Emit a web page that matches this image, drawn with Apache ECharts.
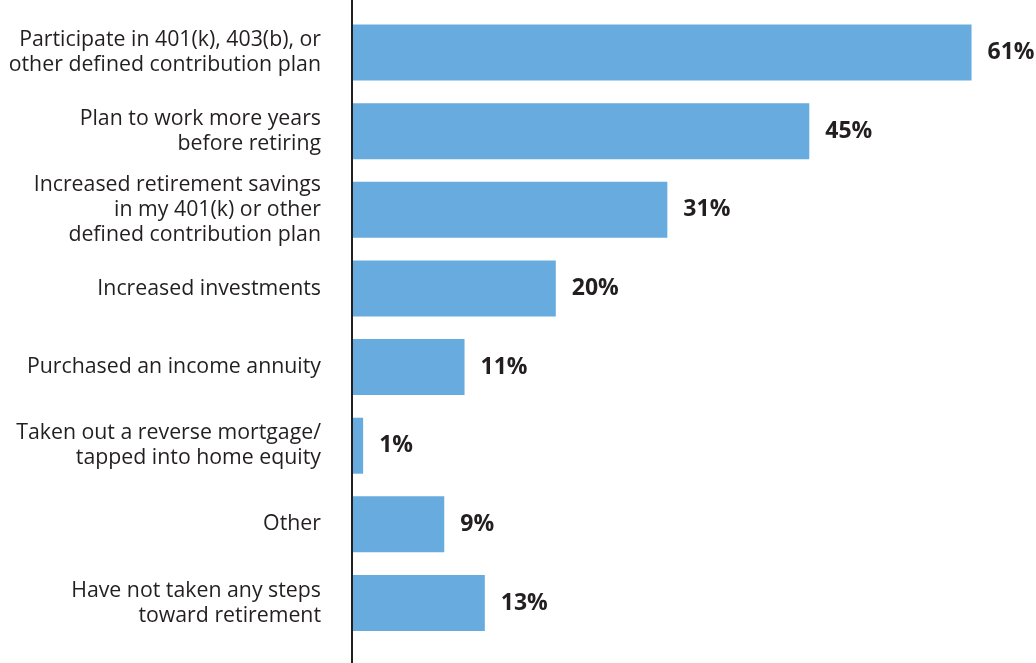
<!DOCTYPE html>
<html>
<head>
<meta charset="utf-8">
<script src="https://cdn.jsdelivr.net/npm/echarts@6/dist/echarts.min.js"></script>
<style>
  html, body { margin: 0; padding: 0; background: #ffffff; }
  #chart { width: 1036px; height: 663px; }
</style>
</head>
<body>
<div id="chart"></div>
<script>
// Steps taken toward retirement (share of respondents, %)
const categories = [
  'Participate in 401(k), 403(b), or\nother defined contribution plan',
  'Plan to work more years\nbefore retiring',
  'Increased retirement savings\nin my 401(k) or other\ndefined contribution plan',
  'Increased investments',
  'Purchased an income annuity',
  'Taken out a reverse mortgage/\ntapped into home equity',
  'Other',
  'Have not taken any steps\ntoward retirement'
];
const values = [61, 45, 31, 20, 11, 1, 9, 13];

const FONT = "'Open Sans', 'Noto Sans', sans-serif";
const TEXT = '#231f20';
const BAR = '#68abde';

const chart = echarts.init(document.getElementById('chart'), null, { renderer: 'canvas' });

chart.setOption({
  animation: false,
  backgroundColor: '#ffffff',
  grid: {
    left: 353, top: 13.2, height: 629.1, width: 659.1,
    containLabel: false,
    outerBoundsMode: 'none'
  },
  xAxis: {
    type: 'value',
    min: 0,
    max: 65,
    show: false
  },
  yAxis: {
    type: 'category',
    data: categories,
    inverse: true,
    axisLine: { show: false },
    axisTick: { show: false },
    axisLabel: {
      margin: 32,
      fontFamily: FONT,
      fontSize: 21.3,
      lineHeight: 25,
      color: TEXT,
      align: 'right'
    }
  },
  series: [{
    type: 'bar',
    data: values,
    barWidth: 56,
    itemStyle: { color: BAR },
    label: {
      show: true,
      position: 'right',
      distance: 16,
      formatter: '{c}%',
      fontFamily: FONT,
      fontWeight: 'bold',
      fontSize: 23,
      color: TEXT
    }
  }],
  graphic: [{
    type: 'line',
    shape: { x1: 352, y1: 0, x2: 352, y2: 663 },
    style: { stroke: TEXT, lineWidth: 2 },
    z: 100
  }]
});
</script>
</body>
</html>
